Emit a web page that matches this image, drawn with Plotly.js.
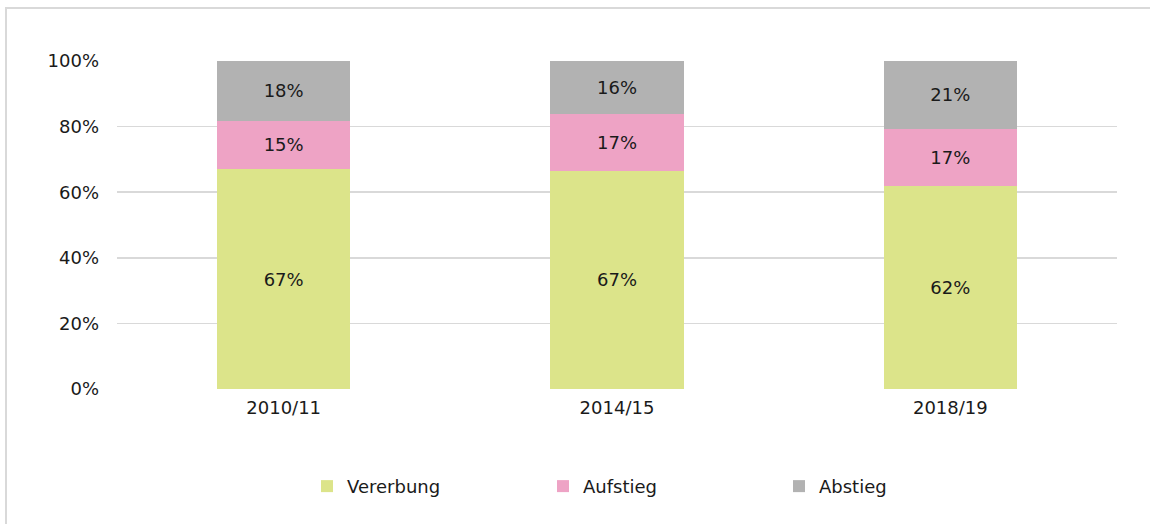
<!DOCTYPE html>
<html>
<head>
<meta charset="utf-8">
<script src="https://cdn.plot.ly/plotly-3.0.1.min.js"></script>
<style>
html,body{margin:0;padding:0;background:#fff;}
#chart{width:1150px;height:524px;position:relative;}
#frame{position:absolute;left:5px;top:7px;width:1160px;height:540px;border:2px solid #d9d9d9;box-sizing:border-box;pointer-events:none;}
</style>
</head>
<body>
<div id="chart"></div>
<div id="frame"></div>
<script>
const categories = ["2010/11", "2014/15", "2018/19"];
const vererbung = [67.0, 66.6, 62.0];
const aufstieg = [14.8, 17.3, 17.4];
const abstieg = [18.2, 16.1, 20.6];
const seriesNames = ["Vererbung", "Aufstieg", "Abstieg"];
const seriesColors = ["#dce48a", "#eea3c5", "#b2b2b2"];
const yTickVals = [0, 20, 40, 60, 80, 100];
const yTickText = ["0%", "20%", "40%", "60%", "80%", "100%"];

const FONT = "DejaVu Sans, sans-serif";
const FS = 18;
const data = [vererbung, aufstieg, abstieg].map((vals, i) => ({
  type: "bar",
  name: seriesNames[i],
  x: categories,
  y: vals,
  marker: {color: seriesColors[i], line: {width: 0}},
  texttemplate: "%{y:.0f}%",
  textposition: "inside",
  insidetextanchor: "middle",
  textangle: 0,
  constraintext: "none",
  textfont: {family: FONT, size: FS, color: "#1a1a1a"},
  hoverinfo: "none"
}));

const layout = {
  width: 1150, height: 524,
  paper_bgcolor: "#ffffff", plot_bgcolor: "#ffffff",
  barmode: "stack",
  bargap: 0.6,
  uniformtext: {mode: false},
  margin: {l: 117, r: 33, t: 61, b: 135},
  font: {family: FONT, size: FS, color: "#1a1a1a"},
  xaxis: {
    type: "category",
    showgrid: false, zeroline: false,
    showline: false,
    ticks: "", tickfont: {family: FONT, size: FS, color: "#1a1a1a"},
    ticklabelstandoff: 6
  },
  yaxis: {
    range: [0, 100],
    tickvals: yTickVals, ticktext: yTickText,
    showgrid: true, gridcolor: "#d9d9d9", gridwidth: 1.5,
    zeroline: false, showline: false,
    ticks: "", ticklabelstandoff: 17,
    tickfont: {family: FONT, size: FS, color: "#1a1a1a"}
  },
  showlegend: true,
  legend: {
    orientation: "h",
    x: 0.19, xanchor: "left",
    y: -0.297, yanchor: "middle",
    entrywidth: 191, entrywidthmode: "pixels",
    font: {family: FONT, size: FS, color: "#1a1a1a"},
    traceorder: "normal",
    itemclick: false
  }
};

Plotly.newPlot("chart", data, layout, {staticPlot: true, displayModeBar: false});
</script>
</body>
</html>
